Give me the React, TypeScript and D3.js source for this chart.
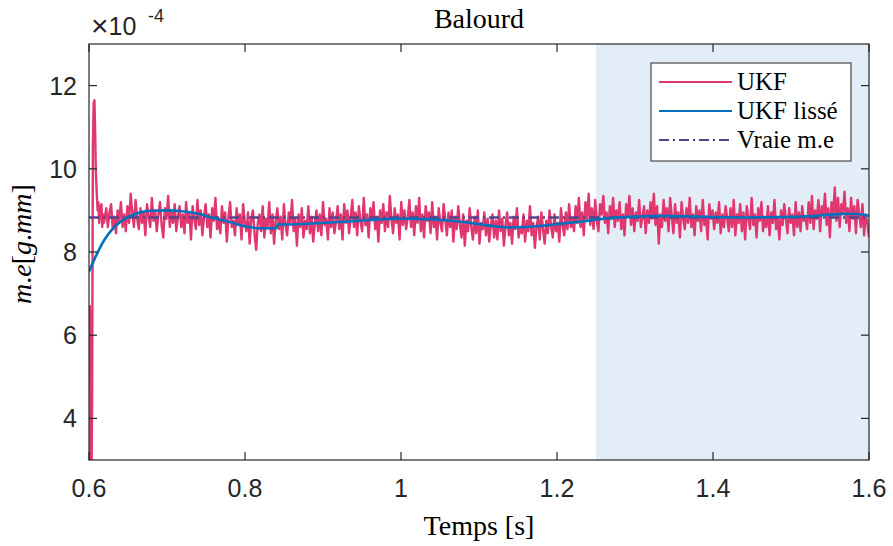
import React from "react";
import * as d3 from "d3";

// ---- data (values in units of 1e-4 g.mm) ----
const title = "Balourd";
const xLabel = "Temps [s]";
const xTicks = [0.6, 0.8, 1, 1.2, 1.4, 1.6];
const yTicks = [4, 6, 8, 10, 12];
const xDomain = [0.6, 1.6];
const yDomain = [3, 13];
const shadeStart = 1.25;
const trueValue = 8.83;

// early transient of the UKF estimate (time, value)
const ukfEarlyT = [0.6, 0.6005, 0.601, 0.6015, 0.602, 0.603, 0.604, 0.605, 0.606, 0.6065, 0.607, 0.6075, 0.608, 0.6085, 0.609, 0.61, 0.611, 0.612, 0.613, 0.614, 0.615, 0.616, 0.617, 0.618, 0.619];
const ukfEarlyV = [6.6, 6.0, 6.7, 6.3, 2.0, 2.0, 4.5, 10.6, 11.6, 11.4, 11.65, 11.2, 10.8, 10.2, 9.8, 9.4, 9.0, 9.2, 8.7, 9.1, 8.8, 9.15, 8.6, 8.9, 8.7];

// UKF estimate, evenly sampled from 0.62 s to 1.6 s
const ukfStart = 0.62;
const ukfEnd = 1.6;
const ukfValues = [
  8.8, 9.05, 8.6, 8.95, 9.15, 8.55, 8.85, 8.45, 9.0, 8.75, 9.2, 8.6, 8.9, 8.5, 9.1, 8.7, 9.4, 8.95, 8.6, 9.25, 8.8, 8.55, 9.05, 8.7, 8.95, 8.4, 9.15, 8.85, 8.6, 9.3, 8.75, 9.0, 8.5, 8.9, 9.2, 8.65, 8.35, 9.05, 8.8, 9.35, 8.6, 8.95, 8.7, 9.15, 8.5, 8.85, 9.1, 8.6,
  8.9, 8.45, 9.2, 8.7, 8.95, 8.3, 9.1, 8.8, 8.55, 9.25, 8.65, 9.0, 8.4, 8.85, 9.15, 8.6, 8.9, 8.35, 9.05, 8.75, 9.3, 8.55, 8.8, 8.45, 9.1, 8.7, 8.95, 8.25, 8.85, 9.2, 8.6, 8.75, 8.4, 9.05, 8.65, 8.9, 8.3, 9.15, 8.7, 8.5, 8.95, 8.2, 8.8, 9.0, 8.45, 8.05, 8.7, 8.9,
  8.5, 9.1, 8.35, 8.8, 8.6, 9.2, 8.45, 8.9, 8.2, 8.75, 9.05, 8.55, 8.85, 8.3, 9.15, 8.65, 8.4, 8.95, 8.7, 9.25, 8.5, 8.8, 8.15, 8.9, 8.6, 9.05, 8.35, 8.75, 8.55, 9.1, 8.45, 8.85, 8.25, 8.7, 9.0, 8.5, 8.9, 8.4, 9.2, 8.65, 8.8, 8.3, 9.05, 8.6, 8.95, 8.45, 8.75, 9.1,
  8.55, 8.9, 8.3, 9.15, 8.7, 9.0, 8.45, 8.85, 9.25, 8.6, 8.95, 8.4, 9.1, 8.75, 8.5, 9.3, 8.65, 8.9, 8.35, 9.05, 8.8, 9.2, 8.55, 8.85, 8.25, 9.0, 8.7, 9.15, 8.5, 8.95, 8.6, 9.35, 8.8, 8.45, 9.05, 8.7, 8.9, 8.3, 9.2, 8.65, 9.0, 8.55, 8.85, 9.25, 8.6, 8.95, 8.4, 9.1,
  8.7, 9.3, 8.5, 8.9, 8.35, 9.1, 8.75, 8.95, 8.45, 9.2, 8.6, 8.85, 8.3, 9.05, 8.7, 8.5, 9.15, 8.8, 8.4, 8.95, 8.6, 9.0, 8.25, 8.85, 8.55, 9.1, 8.65, 8.35, 8.9, 8.15, 8.75, 8.5, 9.05, 8.6, 8.3, 8.85, 8.45, 9.0, 8.2, 8.7, 8.55, 8.95, 8.4, 8.8, 8.25, 8.65, 8.9, 8.35,
  8.75, 8.3, 9.0, 8.5, 8.8, 8.15, 8.65, 8.95, 8.4, 8.7, 8.2, 8.85, 8.55, 9.05, 8.35, 8.6, 8.45, 8.9, 8.25, 8.75, 8.5, 9.1, 8.4, 8.7, 8.1, 8.6, 8.85, 8.3, 8.95, 8.55, 8.2, 8.75, 8.45, 9.0, 8.6, 8.35, 8.9, 8.5, 8.7, 8.25, 9.05, 8.65, 8.4, 8.95, 8.55, 9.15, 8.6, 8.8,
  8.5, 9.1, 8.7, 9.3, 8.6, 8.95, 8.4, 9.2, 8.8, 9.4, 8.65, 9.05, 8.55, 9.25, 8.75, 8.5, 9.15, 8.9, 9.35, 8.7, 8.95, 8.45, 9.1, 8.8, 9.3, 8.6, 9.0, 8.75, 9.2, 8.55, 8.9, 8.4, 9.15, 8.85, 9.35, 8.65, 9.05, 8.5, 8.95, 8.75, 9.25, 8.6, 8.85, 9.1, 8.45, 9.0, 8.7, 9.2,
  8.8, 9.4, 8.65, 9.1, 8.2, 8.9, 8.6, 9.25, 8.75, 9.05, 8.5, 9.3, 8.85, 8.45, 9.15, 8.7, 8.95, 8.35, 9.2, 8.8, 8.55, 9.05, 8.7, 9.3, 8.6, 8.9, 8.4, 9.1, 8.75, 9.0, 8.5, 9.25, 8.65, 8.85, 8.3, 9.15, 8.8, 9.0, 8.55, 8.95, 8.7, 9.2, 8.45, 8.9, 8.6, 9.1, 8.8, 8.5,
  9.05, 8.6, 9.25, 8.4, 8.9, 8.7, 9.15, 8.5, 8.95, 8.3, 9.1, 8.8, 8.55, 9.3, 8.65, 8.9, 8.35, 9.05, 8.75, 9.2, 8.5, 8.85, 8.6, 9.1, 8.4, 8.95, 8.7, 9.25, 8.55, 8.8, 8.3, 9.0, 8.65, 9.15, 8.8, 8.45, 9.05, 8.7, 8.9, 8.4, 9.2, 8.6, 8.95, 8.5, 9.1, 8.75, 8.85, 8.55,
  9.2, 8.7, 9.35, 8.55, 9.0, 8.8, 9.25, 8.5, 9.1, 8.9, 9.4, 8.65, 9.05, 8.35, 9.2, 8.85, 9.55, 8.75, 9.3, 8.6, 9.15, 8.95, 9.45, 8.7, 9.05, 8.5, 9.3, 8.8, 9.1, 8.45, 9.25, 8.9, 8.6, 9.15, 8.4, 8.9, 8.7, 8.35,
];

// smoothed UKF (time, value)
const smoothT = [0.6, 0.61, 0.62, 0.63, 0.64, 0.65, 0.66, 0.67, 0.68, 0.7, 0.72, 0.74, 0.76, 0.78, 0.8, 0.82, 0.84, 0.843, 0.846, 0.85, 0.88, 0.92, 0.96, 1.0, 1.04, 1.08, 1.1, 1.12, 1.14, 1.16, 1.18, 1.2, 1.23, 1.26, 1.3, 1.33, 1.36, 1.4, 1.44, 1.48, 1.52, 1.56, 1.58, 1.6];
const smoothV = [7.53, 7.95, 8.3, 8.55, 8.72, 8.84, 8.92, 8.97, 8.99, 9.0, 8.98, 8.92, 8.82, 8.72, 8.62, 8.57, 8.57, 8.68, 8.66, 8.66, 8.68, 8.72, 8.77, 8.8, 8.78, 8.72, 8.67, 8.62, 8.59, 8.6, 8.63, 8.67, 8.73, 8.8, 8.85, 8.87, 8.86, 8.84, 8.83, 8.84, 8.86, 8.91, 8.92, 8.87];

const legendItems = ["UKF", "UKF lissé", "Vraie m.e"];

// ---- styling ----
const W = 893;
const H = 546;
const M = { left: 89, right: 869, top: 44, bottom: 460 };
const RED = "#e0386e";
const BLUE = "#0072bd";
const PURPLE = "#56438e";
const AXIS = "#262626";
const SHADE = "#e3edf7";
const DASH = "10,4,2,4";
const SANS = "'Liberation Sans', Arial, Helvetica, sans-serif";
const SERIF = "'Liberation Serif', 'Times New Roman', serif";

export default function App() {
  const x = d3.scaleLinear().domain(xDomain).range([M.left, M.right]);
  const y = d3.scaleLinear().domain(yDomain).range([M.bottom, M.top]);

  const n = ukfValues.length;
  const ukfPts: [number, number][] = [
    ...ukfEarlyT.map((t, i) => [t, ukfEarlyV[i]] as [number, number]),
    ...ukfValues.map((v, i) => [ukfStart + (i * (ukfEnd - ukfStart)) / (n - 1), v] as [number, number]),
  ];
  const smoothPts: [number, number][] = smoothT.map((t, i) => [t, smoothV[i]]);

  const line = d3.line<[number, number]>().x((d) => x(d[0])).y((d) => y(d[1]));
  const smoothLine = d3
    .line<[number, number]>()
    .x((d) => x(d[0]))
    .y((d) => y(d[1]))
    .curve(d3.curveMonotoneX);

  const tickLen = 8;
  const legX = 651, legY = 63, legW = 200, legH = 98, rowH = 29;

  return (
    <svg width={W} height={H} style={{ position: "absolute", left: 0, top: 0, background: "#fff" }}>
      <defs>
        <clipPath id="plotClip">
          <rect x={M.left} y={M.top} width={M.right - M.left} height={M.bottom - M.top} />
        </clipPath>
      </defs>
      <rect x={0} y={0} width={W} height={H} fill="#fff" />
      {/* shaded region */}
      <rect x={x(shadeStart)} y={M.top} width={x(xDomain[1]) - x(shadeStart)} height={M.bottom - M.top} fill={SHADE} />

      <g clipPath="url(#plotClip)">
        <path d={line(ukfPts) || ""} fill="none" stroke={RED} strokeWidth={2.4} strokeLinejoin="round" />
        <line x1={x(xDomain[0])} x2={x(xDomain[1])} y1={y(trueValue)} y2={y(trueValue)} stroke={PURPLE} strokeWidth={2.6} strokeDasharray={DASH} />
        <path d={smoothLine(smoothPts) || ""} fill="none" stroke={BLUE} strokeWidth={2.6} />
      </g>

      {/* axes box */}
      <rect x={M.left} y={M.top} width={M.right - M.left} height={M.bottom - M.top} fill="none" stroke={AXIS} strokeWidth={1.2} />
      {xTicks.map((t) => (
        <g key={"xt" + t}>
          <line x1={x(t)} x2={x(t)} y1={M.bottom} y2={M.bottom - tickLen} stroke={AXIS} strokeWidth={1.2} />
          <line x1={x(t)} x2={x(t)} y1={M.top} y2={M.top + tickLen} stroke={AXIS} strokeWidth={1.2} />
          <text x={x(t)} y={497} textAnchor="middle" fontFamily={SANS} fontSize={25} fill={AXIS}>
            {String(t)}
          </text>
        </g>
      ))}
      {yTicks.map((t) => (
        <g key={"yt" + t}>
          <line x1={M.left} x2={M.left + tickLen} y1={y(t)} y2={y(t)} stroke={AXIS} strokeWidth={1.2} />
          <line x1={M.right} x2={M.right - tickLen} y1={y(t)} y2={y(t)} stroke={AXIS} strokeWidth={1.2} />
          <text x={77} y={y(t) + 9} textAnchor="end" fontFamily={SANS} fontSize={25} fill={AXIS}>
            {String(t)}
          </text>
        </g>
      ))}

      {/* exponent */}
      <text x={91} y={35} fontFamily={SANS} fontSize={25} fill={AXIS}>
        <tspan fontSize={30} dy={1}>×</tspan>
        <tspan dy={-1}>10</tspan>
      </text>
      <text x={148} y={22} fontFamily={SANS} fontSize={18} fill={AXIS}>
        -4
      </text>

      {/* title */}
      <text x={(M.left + M.right) / 2} y={28} textAnchor="middle" fontFamily={SERIF} fontSize={28} fill="#000">
        {title}
      </text>
      {/* x label */}
      <text x={(M.left + M.right) / 2} y={535} textAnchor="middle" fontFamily={SERIF} fontSize={28} fill="#000">
        {xLabel}
      </text>
      {/* y label */}
      <text transform={`translate(31, ${(M.top + M.bottom) / 2 - 8}) rotate(-90)`} textAnchor="middle" fontFamily={SERIF} fontSize={28} fill="#000">
        <tspan fontStyle="italic">m</tspan>
        <tspan>.</tspan>
        <tspan fontStyle="italic">e</tspan>
        <tspan>[</tspan>
        <tspan fontStyle="italic">g</tspan>
        <tspan>.</tspan>
        <tspan fontStyle="italic">mm</tspan>
        <tspan>]</tspan>
      </text>

      {/* legend */}
      <rect x={legX} y={legY} width={legW} height={legH} fill="#fff" stroke={AXIS} strokeWidth={1} />
      {legendItems.map((label, i) => {
        const cy = legY + 19 + i * rowH;
        const color = i === 0 ? RED : i === 1 ? BLUE : PURPLE;
        return (
          <g key={label}>
            <line x1={legX + 8} x2={legX + 81} y1={cy} y2={cy} stroke={color} strokeWidth={2.2} strokeDasharray={i === 2 ? DASH : undefined} />
            <text x={legX + 86} y={cy + 8} fontFamily={SERIF} fontSize={25} fill="#000">
              {label}
            </text>
          </g>
        );
      })}
    </svg>
  );
}
